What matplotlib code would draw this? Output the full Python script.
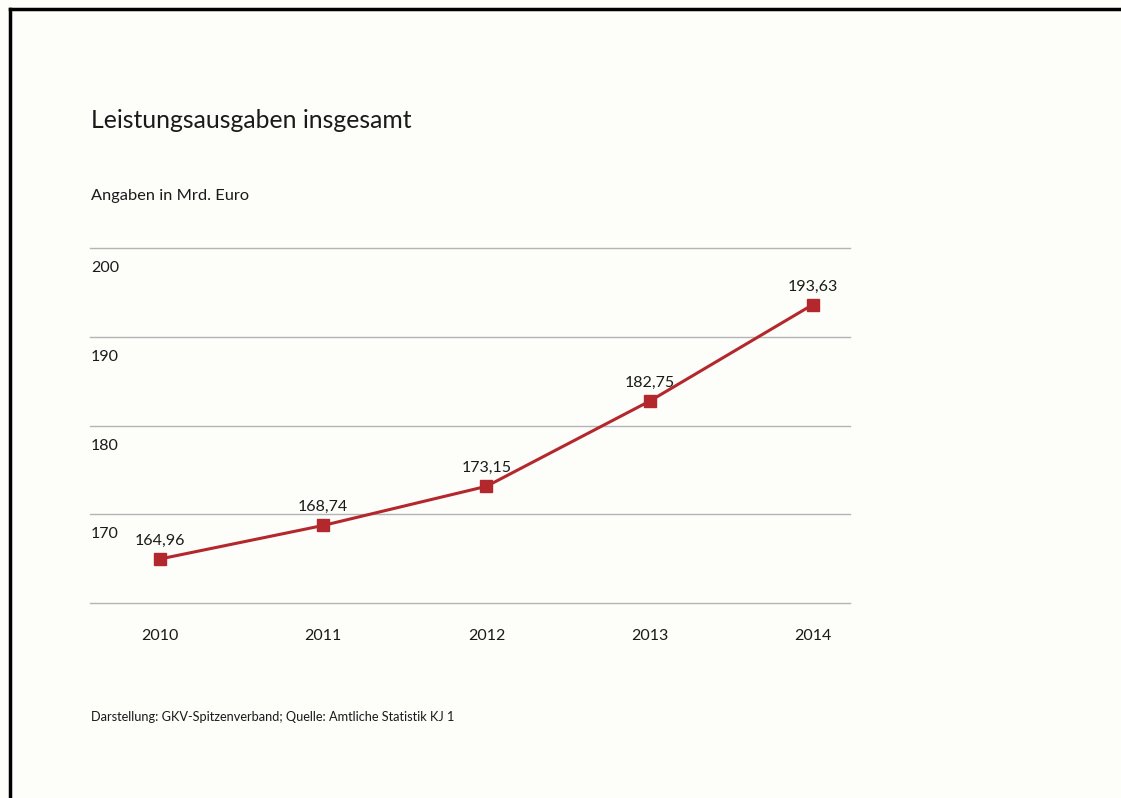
import matplotlib.pyplot as plt
from matplotlib.ticker import FixedLocator

# Leistungsausgaben der GKV, Mrd. Euro
years = [2010, 2011, 2012, 2013, 2014]
spending = [164.96, 168.74, 173.15, 182.75, 193.63]
value_labels = ["164,96", "168,74", "173,15", "182,75", "193,63"]
grid_values = [160, 170, 180, 190, 200]
ytick_labels = ["", "170", "180", "190", "200"]

red = "#b3282d"
text_col = "#1a1a1a"
bg = "#fdfdfa"

plt.rcParams["font.family"] = ["Lato", "DejaVu Sans"]

fig = plt.figure(figsize=(11.21, 7.98), dpi=100, facecolor=bg)
ax = fig.add_axes([90 / 1121, (798 - 603) / 798, 760 / 1121, (603 - 248) / 798])
ax.set_facecolor(bg)

ax.plot(years, spending, color=red, lw=2.2, marker="s", markersize=9,
        markerfacecolor=red, markeredgecolor=red, zorder=3)

# value above each point
for x, y, lbl in zip(years, spending, value_labels):
    ax.annotate(lbl, xy=(x, y), xytext=(0, 8), textcoords="offset points",
                ha="center", va="bottom", fontsize=11.5, color=text_col)

ax.set_xlim(2010 - 0.429, 2014 + 0.227)
ax.set_ylim(160, 200)
ax.yaxis.set_major_locator(FixedLocator(grid_values))
ax.grid(axis="y", color="#b4b4b4", lw=1)
for gl in ax.get_ygridlines():
    gl.set_clip_on(False)
ax.set_yticklabels([])
ax.tick_params(axis="y", length=0)

# y labels sit just under their gridline
for v, lbl in zip(grid_values, ytick_labels):
    ax.annotate(lbl, xy=(0, v), xycoords=("axes fraction", "data"),
                xytext=(1, -20), textcoords="offset pixels",
                ha="left", va="center", fontsize=11.5, color=text_col)

ax.set_xticks(years)
ax.set_xticklabels([str(y) for y in years], fontsize=11.5, color=text_col)
ax.tick_params(axis="x", length=0, pad=19)

for s in ax.spines.values():
    s.set_visible(False)

fig.text(91 / 1121, 1 - 120 / 798, "Leistungsausgaben insgesamt",
         fontsize=17.8, color=text_col, ha="left", va="center")
fig.text(91 / 1121, 1 - 196 / 798, "Angaben in Mrd. Euro",
         fontsize=11.8, color=text_col, ha="left", va="center")
fig.text(91 / 1121, 1 - 717 / 798,
         "Darstellung: GKV-Spitzenverband; Quelle: Amtliche Statistik KJ 1",
         fontsize=9.2, color=text_col, ha="left", va="center")

# frame on the left and top
fig.add_artist(plt.Line2D([9.5 / 1121, 9.5 / 1121], [0, 1 - 8.5 / 798],
                          transform=fig.transFigure, color="black", lw=2.5))
fig.add_artist(plt.Line2D([9.5 / 1121, 1], [1 - 8.5 / 798, 1 - 8.5 / 798],
                          transform=fig.transFigure, color="black", lw=2.5))

fig.savefig("out.png", dpi=100, facecolor=bg)
